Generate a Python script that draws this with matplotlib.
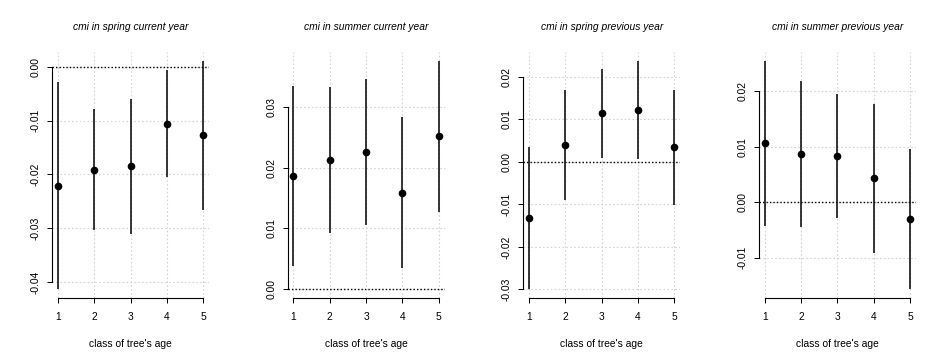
import numpy as np
import matplotlib.pyplot as plt

plt.rcParams['font.family'] = ['Liberation Sans', 'DejaVu Sans']

classes = [1, 2, 3, 4, 5]

titles = ['cmi in spring current year', 'cmi in summer current year',
          'cmi in spring previous year', 'cmi in summer previous year']

# estimates and interval bounds
spring_cur = [-0.0221, -0.0192, -0.0185, -0.0106, -0.0127]
spring_cur_lo = [-0.0413, -0.0304, -0.0310, -0.0204, -0.0266]
spring_cur_hi = [-0.0028, -0.0079, -0.0060, -0.0006, 0.0011]

summer_cur = [0.0187, 0.0213, 0.0226, 0.0159, 0.0252]
summer_cur_lo = [0.0038, 0.0093, 0.0106, 0.0035, 0.0127]
summer_cur_hi = [0.0335, 0.0333, 0.0347, 0.0283, 0.0376]

spring_prev = [-0.0133, 0.0039, 0.0114, 0.0122, 0.0034]
spring_prev_lo = [-0.0299, -0.0091, 0.0010, 0.0006, -0.0101]
spring_prev_hi = [0.0035, 0.0168, 0.0219, 0.0237, 0.0168]

summer_prev = [0.0106, 0.0087, 0.0084, 0.0043, -0.0031]
summer_prev_lo = [-0.0042, -0.0044, -0.0028, -0.0092, -0.0156]
summer_prev_hi = [0.0254, 0.0218, 0.0195, 0.0177, 0.0095]

yticks = [[-0.04, -0.03, -0.02, -0.01, 0.00],
          [0.00, 0.01, 0.02, 0.03],
          [-0.03, -0.02, -0.01, 0.00, 0.01, 0.02],
          [-0.01, 0.00, 0.01, 0.02]]

panels = [(spring_cur, spring_cur_lo, spring_cur_hi),
          (summer_cur, summer_cur_lo, summer_cur_hi),
          (spring_prev, spring_prev_lo, spring_prev_hi),
          (summer_prev, summer_prev_lo, summer_prev_hi)]

W, H = 943, 363
fig = plt.figure(figsize=(W / 100, H / 100), dpi=100)

for i, (est, lo, hi) in enumerate(panels):
    left = 52 + i * 235.6
    ax = fig.add_axes([left / W, (H - 298) / H, 157 / W, 246 / H])

    # R-style 4% padding, range includes the zero line
    ymin = min(0, min(lo))
    ymax = max(0, max(hi))
    pad = 0.04 * (ymax - ymin)
    ax.set_ylim(ymin - pad, ymax + pad)
    ax.set_xlim(1 - 0.04 * 4, 5 + 0.04 * 4)

    ax.grid(True, color='lightgray', linestyle=(0, (1.5, 2)), linewidth=0.8)
    ax.set_axisbelow(True)

    ax.axhline(0, color='black', linestyle=(0, (1, 1.5)), linewidth=1.0, zorder=2)
    ax.vlines(classes, lo, hi, color='black', linewidth=1.1, zorder=3)
    ax.plot(classes, est, 'o', color='black', markersize=4.5, zorder=4)

    ax.set_xticks(classes)
    ax.set_yticks(yticks[i])
    ax.set_yticklabels(['%.2f' % t for t in yticks[i]], rotation=90, va='center')
    ax.tick_params(axis='both', length=3.6, width=0.7, labelsize=7.4,
                   colors='black')
    ax.tick_params(axis='y', pad=4.5)
    ax.tick_params(axis='x', pad=6.5)

    for s in ['top', 'right']:
        ax.spines[s].set_visible(False)
    ax.spines['left'].set_bounds(yticks[i][0], yticks[i][-1])
    ax.spines['bottom'].set_bounds(1, 5)
    ax.spines['left'].set_linewidth(0.8)
    ax.spines['bottom'].set_linewidth(0.8)

    cx = (left + 157 / 2) / W
    fig.text(cx, 1 - 27 / H, titles[i], ha='center', va='center',
             fontsize=7.4, style='italic')
    fig.text(cx, 1 - 344 / H, "class of tree's age", ha='center',
             va='center', fontsize=7.4)

plt.savefig('out.png', dpi=100)
